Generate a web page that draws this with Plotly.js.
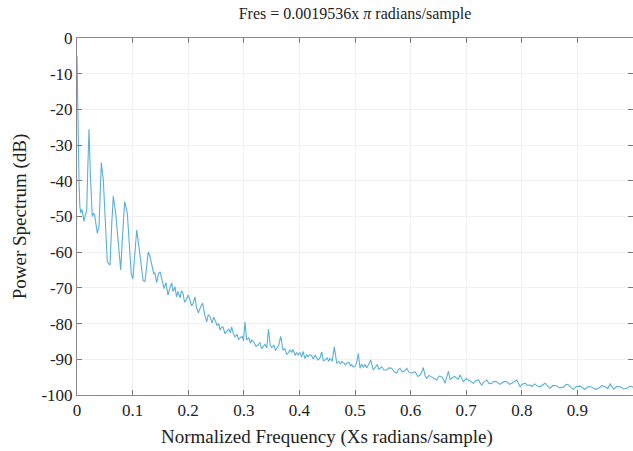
<!DOCTYPE html>
<html>
<head>
<meta charset="utf-8">
<script src="https://cdn.plot.ly/plotly-3.0.1.min.js"></script>
<style>html,body{margin:0;padding:0;background:#fff;}#chart{width:633px;height:451px;}</style>
</head>
<body>
<div id="chart"></div>
<script>
// Normalized frequency (x pi radians/sample)
const freq = [
0,0.0012,0.0025,0.0036,0.0050,0.0067,0.0090,0.0110,0.0126,0.0150,0.0174,0.0195,0.0216,0.0240,0.0260,0.0275,0.0295,0.0318,0.0340,0.0365,
0.0396,0.0415,0.0437,0.0473,0.0500,0.0516,0.0545,0.0570,0.0594,0.0625,0.0653,0.0696,0.0730,0.0755,0.0786,0.0820,0.0858,0.0905,0.0940,0.0975,
0.1005,0.1040,0.1074,0.1110,0.1150,0.1190,0.1223,0.1255,0.1282,0.1310,0.1349,0.1380,0.1403,0.1433,0.1466,0.1495,0.1523,0.1545,0.1565,0.1600,
0.1637,0.1670,0.1703,0.1727,0.1763,0.1790,0.1817,0.1853,0.1880,0.1906,0.1935,0.1960,0.2000,0.2032,0.2060,0.2086,0.2122,0.2150,0.2182,0.2220,
0.2260,0.2295,0.2333,0.2360,0.2392,0.2430,0.2460,0.2482,0.2520,0.2550,0.2572,0.2600,0.2626,0.2660,0.2692,0.2730,0.2760,0.2782,0.2810,0.2842,
0.2880,0.2905,0.2932,0.2970,0.2995,0.3022,0.3052,0.3090,0.3120,0.3142,0.3180,0.3220,0.3255,0.3290,0.3320,0.3345,0.3380,0.3415,0.3444,0.3475,
0.3502,0.3540,0.3570,0.3592,0.3625,0.3664,0.3705,0.3740,0.3770,0.3795,0.3830,0.3860,0.3885,0.3920,0.3950,0.3975,0.4010,0.4040,0.4065,0.4100,
0.4130,0.4155,0.4190,0.4220,0.4250,0.4281,0.4310,0.4335,0.4370,0.4401,0.4430,0.4460,0.4500,0.4525,0.4550,0.4590,0.4628,0.4671,0.4710,0.4740,
0.4761,0.4800,0.4830,0.4851,0.4890,0.4920,0.4941,0.4970,0.5000,0.5030,0.5060,0.5090,0.5120,0.5150,0.5180,0.5210,0.5250,0.5282,0.5329,0.5360,
0.5401,0.5430,0.5480,0.5520,0.5570,0.5610,0.5660,0.5700,0.5750,0.5780,0.5810,0.5850,0.5900,0.5930,0.5970,0.6020,0.6080,0.6130,0.6170,0.6200,
0.6228,0.6260,0.6290,0.6330,0.6380,0.6420,0.6470,0.6510,0.6560,0.6590,0.6620,0.6680,0.6710,0.6740,0.6790,0.6830,0.6860,0.6890,0.6930,0.6950,
0.7000,0.7040,0.7080,0.7130,0.7170,0.7220,0.7250,0.7280,0.7320,0.7370,0.7410,0.7460,0.7500,0.7550,0.7600,0.7640,0.7690,0.7730,0.7780,0.7820,
0.7860,0.7910,0.7970,0.8010,0.8060,0.8100,0.8150,0.8190,0.8230,0.8280,0.8330,0.8380,0.8420,0.8470,0.8510,0.8560,0.8630,0.8680,0.8750,0.8800,
0.8840,0.8890,0.8930,0.8980,0.9050,0.9100,0.9140,0.9200,0.9260,0.9320,0.9380,0.9440,0.9500,0.9545,0.9590,0.9650,0.9710,0.9770,0.9830,0.9890,
0.9950,1.0000
];
// Power spectrum (dB)
const power = [
-5,-22,-36,-40,-47,-49,-48,-51,-51.4,-49.5,-48.6,-36,-25.6,-38,-48,-50,-49.2,-49.6,-52,-54.7,
-52.8,-42,-34.9,-39.8,-50,-55,-62.7,-63.2,-63.6,-52,-44.3,-49.1,-55,-60.2,-65,-55,-45.8,-49.1,-57,-66,
-67.5,-60,-53.8,-58,-64,-68,-68.2,-63,-59.9,-61,-63.5,-66,-65.8,-68.5,-66,-65.5,-67.3,-69,-70.2,-68.5,
-72,-70,-68.6,-71,-69.7,-72.5,-71,-72.8,-70.8,-71.5,-74,-73.5,-72,-73.4,-75,-74.5,-72.5,-75.5,-77,-75.5,
-74.2,-77.5,-79.5,-77.5,-78,-79.8,-78.2,-79,-80.5,-80,-81.8,-81,-80.9,-82.8,-82.3,-81.5,-82.6,-80.9,-82.8,-83.7,
-83,-84.5,-84,-83.5,-84.8,-79.5,-84.6,-84,-85.5,-84.6,-85.2,-86.4,-86,-85.3,-87,-86.5,-85.8,-86.8,-81.5,-86,
-86.7,-86,-87.5,-86.9,-86.2,-83.6,-87.4,-87,-88.6,-88.3,-87.4,-88,-87.2,-88.9,-88.1,-88.8,-88.1,-89.4,-87.8,-89.8,
-88.7,-89.3,-88.7,-89.0,-89.9,-88.8,-89.5,-90.2,-89.6,-87.9,-90.4,-90.2,-89.6,-90.6,-89.7,-90.5,-86.5,-91.1,-90.6,-91.3,
-90.6,-91.0,-91.6,-91.1,-90.8,-91.8,-91.5,-92.2,-92.0,-91,-88.3,-92.5,-91.4,-92.2,-91.5,-92.4,-91.3,-90.2,-93.0,-92.2,
-91.5,-92.8,-92.1,-93.0,-93.0,-92.4,-92.5,-93.4,-93.9,-92.9,-92.5,-93.5,-93.2,-92.5,-93.6,-93.9,-93.5,-94.8,-94.4,-93.6,
-92.3,-94.6,-95.3,-94.5,-94.9,-95.2,-95.8,-94.7,-94.9,-95.6,-96.7,-93.3,-95.6,-95.3,-94.8,-95.3,-95.6,-94.4,-96.0,-96.3,
-95.4,-95.8,-96.4,-96.7,-96.0,-95.8,-96.6,-97.2,-96.3,-95.8,-96.8,-96.7,-96.2,-96.3,-97.0,-96.7,-96.2,-96.3,-97.0,-96.7,
-96.4,-95.8,-97.7,-97.0,-96.7,-97.3,-97.2,-97.6,-96.9,-97.5,-97.7,-97.0,-96.7,-97.6,-98.1,-97.3,-97.5,-98.0,-97.8,-97.0,
-97.2,-98.0,-98.4,-97.6,-97.5,-98.1,-98.4,-97.6,-97.8,-98.4,-98.1,-97.4,-97.7,-98.2,-96.9,-98.4,-97.6,-97.7,-98.3,-98.1,
-97.5,-97.8
];
const xTicks = [0,0.1,0.2,0.3,0.4,0.5,0.6,0.7,0.8,0.9,1];
const yTicks = [0,-10,-20,-30,-40,-50,-60,-70,-80,-90,-100];

const serif = 'Liberation Serif, Times New Roman, serif';
const axisCommon = {
  showline: true, linecolor: '#8a8a8a', linewidth: 1, mirror: 'ticks',
  ticks: 'inside', ticklen: 5, tickcolor: '#7a7a7a', tickwidth: 1,
  showgrid: true, gridcolor: '#f0f0f0', gridwidth: 1,
  zeroline: false,
  tickfont: {family: serif, size: 17, color: '#222'}
};

Plotly.newPlot('chart', [{
  x: freq, y: power, type: 'scatter', mode: 'lines',
  line: {color: '#5ab0d6', width: 1.1}, hoverinfo: 'skip'
}], {
  width: 633, height: 451,
  margin: {l: 77, r: 0, t: 38, b: 56, pad: 0},
  paper_bgcolor: '#fff', plot_bgcolor: '#fff',
  showlegend: false,
  title: {text: 'Fres = 0.0019536x <i>π</i> radians/sample', font: {family: serif, size: 16, color: '#222'},
          x: 0.5, xref: 'paper', y: 1 - 13/451, yref: 'container', yanchor: 'middle'},
  xaxis: Object.assign({}, axisCommon, {
    range: [0, 1], tickvals: xTicks, ticktext: xTicks.map(String)
  }),
  yaxis: Object.assign({}, axisCommon, {
    range: [-100, 0], tickvals: yTicks, ticktext: yTicks.map(String),
    title: {text: 'Power Spectrum (dB)', font: {family: serif, size: 19, color: '#222'}, standoff: 9}
  }),
  annotations: [{
    text: 'Normalized Frequency (Xs radians/sample)',
    xref: 'paper', yref: 'paper', x: 0.45, y: -42/357, xanchor: 'center', yanchor: 'middle',
    showarrow: false, font: {family: serif, size: 19, color: '#222'}
  }]
}, {staticPlot: true, displayModeBar: false});
</script>
</body>
</html>
